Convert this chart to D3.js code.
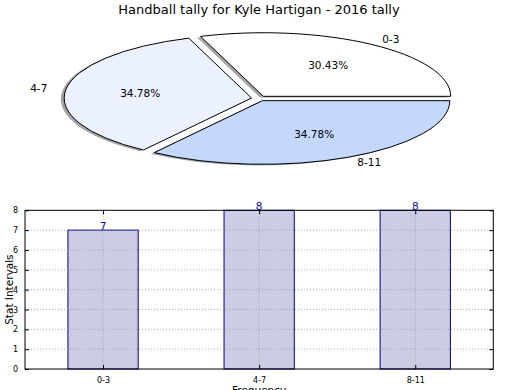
<!DOCTYPE html>
<html><head><meta charset="utf-8">
<script src="https://cdn.jsdelivr.net/npm/d3@7"></script>
<style>
html,body{margin:0;padding:0;background:#fff;}
svg{display:block;font-family:"DejaVu Sans",sans-serif;}
</style></head>
<body>
<svg id="chart" width="520" height="390"></svg>
<script>
const title = "Handball tally for Kyle Hartigan - 2016 tally";
const categories = ["0-3", "4-7", "8-11"];
const values = [7, 8, 8];
const pieColors = ["#ffffff", "#ebf1fe", "#c4d8fe"];
const yTicks = [0, 1, 2, 3, 4, 5, 6, 7, 8];
const yLabel = "Stat Intervals";
const xLabel = "Frequency";

const svg = d3.select("#chart");

// ---------- title ----------
svg.append("text").attr("x", 259).attr("y", 14).attr("text-anchor", "middle")
  .attr("font-size", 13).attr("fill", "#000").text(title);

// ---------- pie (elliptical, exploded, shadowed) ----------
const cx = 259, cy = 98.4, rx = 187.4, ry = 63.6, explode = 0.04;
const total = d3.sum(values);
const pie = d3.pie().sort(null).startAngle(Math.PI / 2).endAngle(Math.PI / 2 - 2 * Math.PI);
const arcs = pie(values);
const unitArc = d3.arc().innerRadius(0).outerRadius(1);

const pg = svg.append("g");
const info = arcs.map((a, i) => {
  const mid = (a.startAngle + a.endAngle) / 2;
  const ox = cx + explode * rx * Math.sin(mid);
  const oy = cy - explode * ry * Math.cos(mid);
  return {a, i, mid, ox, oy};
});
info.forEach(d => {
  const c = d3.rgb(pieColors[d.i]);
  pg.append("path")
    .attr("d", unitArc(d.a))
    .attr("transform", `translate(${d.ox - 0.018 * rx},${d.oy + 0.018 * ry}) scale(${rx},${ry})`)
    .attr("fill", d3.rgb(c.r * 0.3, c.g * 0.3, c.b * 0.3))
    .attr("fill-opacity", 0.5)
    .attr("stroke", "none");
});
info.forEach(d => {
  pg.append("path")
    .attr("d", unitArc(d.a))
    .attr("transform", `translate(${d.ox},${d.oy}) scale(${rx},${ry})`)
    .attr("fill", pieColors[d.i])
    .attr("stroke", "#000")
    .attr("stroke-width", 1)
    .attr("vector-effect", "non-scaling-stroke");
});
info.forEach(d => {
  const s = Math.sin(d.mid), c = Math.cos(d.mid);
  pg.append("text")
    .attr("x", d.ox + 1.1 * rx * s).attr("y", d.oy - 1.1 * ry * c)
    .attr("dy", "0.35em")
    .attr("text-anchor", s > 0 ? "start" : "end")
    .attr("font-size", 10.5).text(categories[d.i]);
  pg.append("text")
    .attr("x", d.ox + 0.6 * rx * s).attr("y", d.oy - 0.6 * ry * c)
    .attr("dy", "0.35em")
    .attr("text-anchor", "middle")
    .attr("font-size", 10.5)
    .text((values[d.i] / total * 100).toFixed(2) + "%");
});

// ---------- bar chart ----------
const pLeft = 25, pRight = 493.3, pTop = 210.3, pBottom = 369;
const x = d3.scaleLinear().domain([-0.5, categories.length - 0.5]).range([pLeft, pRight]);
const y = d3.scaleLinear().domain([0, 8]).range([pBottom, pTop]);
const barW = 0.45;
const bg = svg.append("g");

// bars
bg.selectAll(".bar").data(values).enter().append("rect")
  .attr("x", (d, i) => x(i - barW / 2)).attr("width", x(barW) - x(0))
  .attr("y", d => y(d)).attr("height", d => y(0) - y(d))
  .attr("fill", "#ccccE4").attr("stroke", "#00008b").attr("stroke-width", 1);

// grid
bg.selectAll(".vg").data(categories).enter().append("line")
  .attr("x1", (d, i) => x(i)).attr("x2", (d, i) => x(i)).attr("y1", pTop).attr("y2", pBottom)
  .attr("stroke", "#9a9a9a").attr("stroke-width", 0.8).attr("stroke-dasharray", "1,2");
bg.selectAll(".hg").data(yTicks.slice(1, -1)).enter().append("line")
  .attr("x1", pLeft).attr("x2", pRight).attr("y1", d => y(d)).attr("y2", d => y(d))
  .attr("stroke", "#9a9a9a").attr("stroke-width", 0.8).attr("stroke-dasharray", "1,2");

// value labels
bg.selectAll(".vl").data(values).enter().append("text")
  .attr("x", (d, i) => x(i)).attr("y", d => y(d) - 0.3)
  .attr("text-anchor", "middle").attr("font-size", 10.5).attr("fill", "#0a0aa0")
  .text(d => d);

// frame
bg.append("rect").attr("x", pLeft).attr("y", pTop).attr("width", pRight - pLeft).attr("height", pBottom - pTop)
  .attr("fill", "none").attr("stroke", "#000").attr("stroke-width", 1);

// axes with inward ticks
const yAxisL = d3.axisLeft(y).tickValues(yTicks).tickSizeInner(-4).tickSizeOuter(0).tickPadding(7).tickFormat(d3.format("d"));
const ga = bg.append("g").attr("transform", `translate(${pLeft},0)`).call(yAxisL);
const yAxisR = d3.axisRight(y).tickValues(yTicks).tickSizeInner(-4).tickSizeOuter(0).tickFormat("");
const gb = bg.append("g").attr("transform", `translate(${pRight},0)`).call(yAxisR);
const xAxisB = d3.axisBottom(x).tickValues(d3.range(categories.length)).tickSizeInner(-4).tickSizeOuter(0).tickPadding(8).tickFormat(i => categories[i]);
const gc = bg.append("g").attr("transform", `translate(0,${pBottom})`).call(xAxisB);
const xAxisT = d3.axisTop(x).tickValues(d3.range(categories.length)).tickSizeInner(-4).tickSizeOuter(0).tickFormat("");
const gd = bg.append("g").attr("transform", `translate(0,${pTop})`).call(xAxisT);
[ga, gb, gc, gd].forEach(g => {
  g.select(".domain").remove();
  g.selectAll("text").attr("font-size", 8).attr("font-family", "DejaVu Sans").attr("fill", "#000");
  g.selectAll("line").attr("stroke", "#000");
});

// axis labels
svg.append("text").attr("transform", `translate(13,${(pTop + pBottom) / 2}) rotate(-90)`)
  .attr("text-anchor", "middle").attr("font-size", 10.5).text(yLabel);
svg.append("text").attr("x", x(1)).attr("y", 394).attr("text-anchor", "middle")
  .attr("font-size", 10.5).text(xLabel);
</script>
</body></html>
